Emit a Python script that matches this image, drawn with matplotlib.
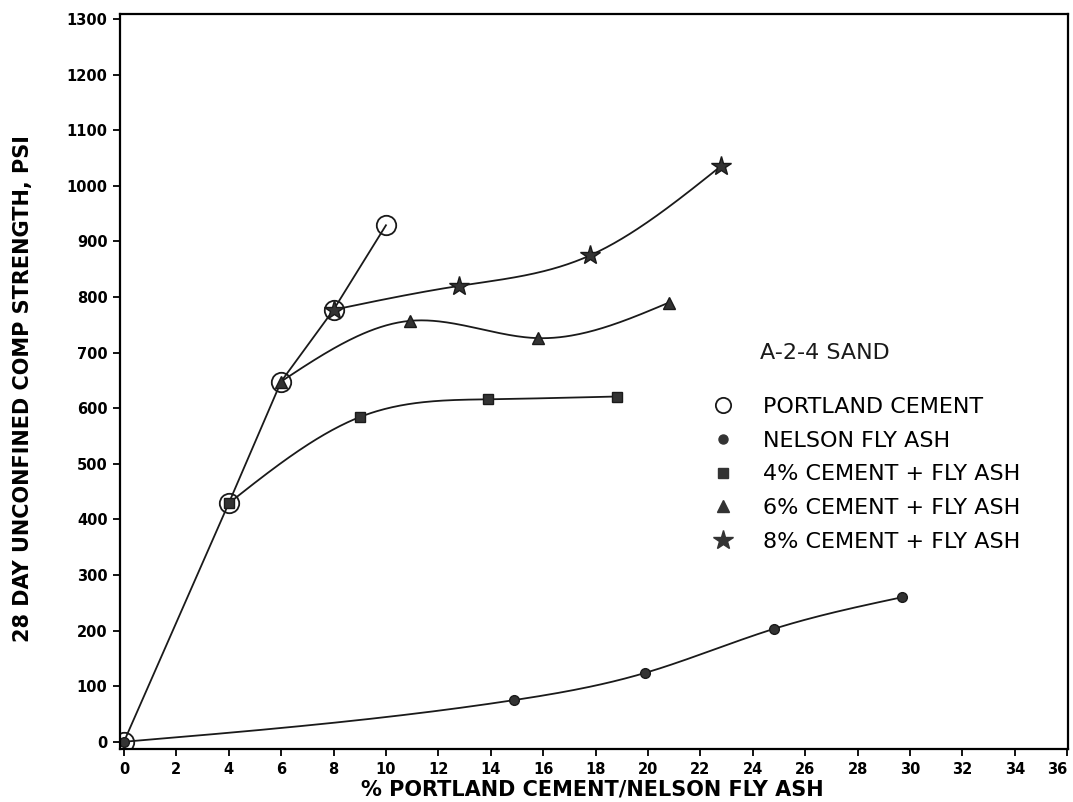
import matplotlib
matplotlib.use("Agg")
import matplotlib.pyplot as plt
from matplotlib.lines import Line2D
import numpy as np

# values
pc_x = [0, 4, 6, 8, 10]
pc_y = [0, 429, 648, 777, 929]

fa_x = [0, 14.9, 19.9, 24.8, 29.7]
fa_y = [0, 75, 124, 203, 260]

c4_x = [4, 9.0, 13.9, 18.8]
c4_y = [429, 584, 616, 621]

c6_x = [6, 10.9, 15.8, 20.8]
c6_y = [648, 757, 726, 790]

c8_x = [8, 12.8, 17.8, 22.8]
c8_y = [777, 820, 875, 1036]

labels = ["PORTLAND CEMENT", "NELSON FLY ASH", "4% CEMENT + FLY ASH",
          "6% CEMENT + FLY ASH", "8% CEMENT + FLY ASH"]

x_ticks = np.arange(0, 37, 2)
y_ticks = np.arange(0, 1301, 100)


def spline(x, y, n=200):
    # natural cubic spline, the original curves are drawn smooth
    x = np.asarray(x, float)
    y = np.asarray(y, float)
    k = len(x)
    h = np.diff(x)
    A = np.zeros((k, k))
    b = np.zeros(k)
    A[0, 0] = 1
    A[-1, -1] = 1
    for i in range(1, k - 1):
        A[i, i - 1] = h[i - 1]
        A[i, i] = 2 * (h[i - 1] + h[i])
        A[i, i + 1] = h[i]
        b[i] = 6 * ((y[i + 1] - y[i]) / h[i] - (y[i] - y[i - 1]) / h[i - 1])
    M = np.linalg.solve(A, b)
    xs = np.linspace(x[0], x[-1], n)
    idx = np.clip(np.searchsorted(x, xs) - 1, 0, k - 2)
    x0, x1 = x[idx], x[idx + 1]
    hh = x1 - x0
    t0 = x1 - xs
    t1 = xs - x0
    ys = (M[idx] * t0**3 / (6 * hh) + M[idx + 1] * t1**3 / (6 * hh)
          + (y[idx] / hh - M[idx] * hh / 6) * t0
          + (y[idx + 1] / hh - M[idx + 1] * hh / 6) * t1)
    return xs, ys


fig = plt.figure(figsize=(10.73, 8.02), dpi=100)
ax = fig.add_axes([120 / 1073, 53 / 802, 948 / 1073, 735 / 802])

lw = 1.3
k = "#1a1a1a"

ax.plot(pc_x, pc_y, color=k, lw=lw)
for xx, yy in [(fa_x, fa_y), (c4_x, c4_y), (c6_x, c6_y), (c8_x, c8_y)]:
    sx, sy = spline(xx, yy)
    ax.plot(sx, sy, color=k, lw=lw)

ax.plot(fa_x, fa_y, ls="none", marker="o", ms=7, color="#333333", mec=k)
ax.plot(c4_x, c4_y, ls="none", marker="s", ms=7.5, color="#333333", mec=k)
ax.plot(c6_x, c6_y, ls="none", marker="^", ms=9, color="#333333", mec=k)
ax.plot(c8_x, c8_y, ls="none", marker="*", ms=15, color="#333333", mec=k)
ax.plot(pc_x, pc_y, ls="none", marker="o", ms=14, mfc="none", mec=k, mew=1.3)

ax.set_xlim(-0.15, 36.03)
ax.set_ylim(-13, 1309)
ax.set_xticks(x_ticks)
ax.set_yticks(y_ticks)
ax.tick_params(direction="out", length=5, width=1.3, labelsize=10.5, pad=4)
for t in ax.get_xticklabels() + ax.get_yticklabels():
    t.set_fontweight("bold")
ax.get_xticklabels()[-1].set_horizontalalignment("right")
for s in ax.spines.values():
    s.set_linewidth(1.6)

ax.set_ylabel("28 DAY UNCONFINED COMP STRENGTH, PSI", fontsize=15, fontweight="bold")
ax.yaxis.set_label_coords(-0.092, 0.49)
ax.set_xlabel("% PORTLAND CEMENT/NELSON FLY ASH", fontsize=15, fontweight="bold")
ax.xaxis.set_label_coords(0.498, -0.042)

ax.text(0.675, 0.539, "A-2-4 SAND", transform=ax.transAxes, fontsize=16,
        va="center", ha="left", color=k)

handles = [
    Line2D([], [], ls="none", marker="o", ms=11, mfc="none", mec=k, mew=1.3),
    Line2D([], [], ls="none", marker="o", ms=6.5, color="#333333"),
    Line2D([], [], ls="none", marker="s", ms=6.5, color="#333333"),
    Line2D([], [], ls="none", marker="^", ms=9, color="#333333"),
    Line2D([], [], ls="none", marker="*", ms=15, color="#333333"),
]
ax.legend(handles, labels, loc="upper left", bbox_to_anchor=(0.6245, 0.479),
          frameon=False, fontsize=16, handlelength=1.0, handletextpad=1.3,
          labelspacing=0.62, borderpad=0, borderaxespad=0)

plt.savefig("out.png", dpi=100)
plt.close()
